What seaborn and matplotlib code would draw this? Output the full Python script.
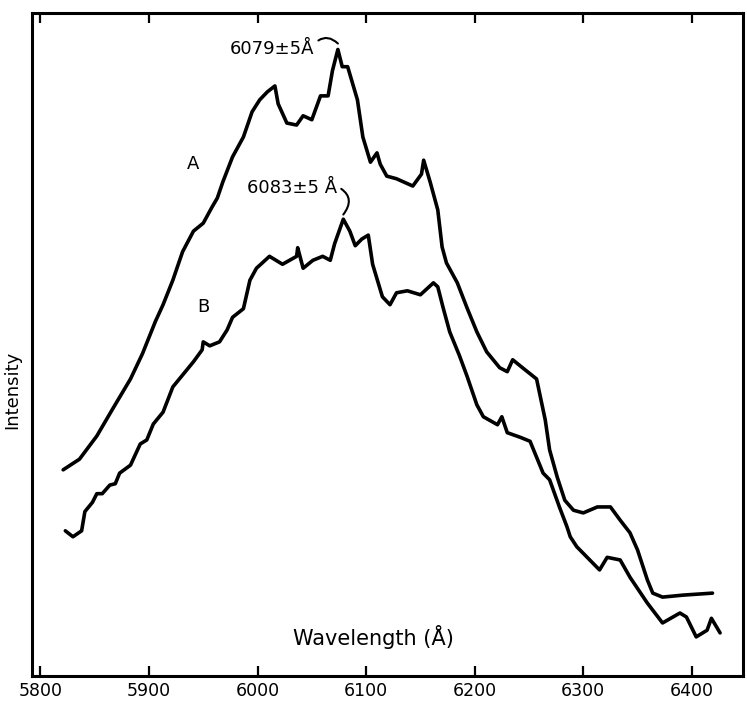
import numpy as np
import pandas as pd
import matplotlib
matplotlib.use("Agg")
import matplotlib.pyplot as plt
import seaborn as sns

# ---- data (wavelength in Angstrom, intensity in arbitrary units 0-100) ----
wl_a = [5821, 5836, 5852, 5867, 5883, 5894, 5906, 5913, 5922, 5931, 5941, 5950, 5958, 5963,
        5968, 5977, 5987, 5995, 6002, 6009, 6016, 6019, 6027, 6036, 6042, 6050, 6058, 6065,
        6069, 6074, 6078, 6083, 6092, 6097, 6104, 6110, 6113, 6119, 6128, 6143, 6151, 6153,
        6159, 6166, 6170, 6174, 6184, 6193, 6202, 6211, 6223, 6230, 6235, 6244, 6257, 6265,
        6269, 6276, 6283, 6291, 6300, 6313, 6325, 6334, 6343, 6350, 6359, 6364, 6373, 6392,
        6419]
int_a = [31.1, 32.7, 36.2, 40.4, 44.8, 48.6, 53.5, 56.0, 59.7, 64.0, 67.1, 68.3, 70.7, 72.1,
         74.5, 78.3, 81.3, 85.1, 86.9, 88.1, 89.0, 86.3, 83.4, 83.1, 84.5, 83.9, 87.5, 87.5,
         91.3, 94.5, 91.9, 91.9, 86.9, 81.3, 77.5, 78.9, 77.2, 75.4, 75.0, 73.9, 75.7, 77.8,
         74.5, 70.3, 64.7, 62.3, 59.3, 55.5, 51.9, 48.9, 46.5, 45.9, 47.7, 46.5, 44.8, 38.6,
         34.1, 30.0, 26.5, 25.0, 24.6, 25.5, 25.5, 23.5, 21.6, 19.0, 14.5, 12.5, 11.9, 12.2,
         12.5]

wl_b = [5823, 5830, 5838, 5841, 5848, 5852, 5857, 5864, 5869, 5873, 5883, 5892, 5898, 5904,
        5913, 5922, 5931, 5941, 5949, 5950, 5956, 5965, 5972, 5977, 5987, 5993, 5999, 6011,
        6023, 6036, 6037, 6042, 6051, 6060, 6067, 6071, 6079, 6085, 6090, 6096, 6102, 6106,
        6115, 6122, 6128, 6138, 6150, 6162, 6166, 6171, 6177, 6186, 6193, 6202, 6208, 6221,
        6225, 6230, 6242, 6251, 6257, 6263, 6269, 6278, 6285, 6288, 6294, 6315, 6322, 6334,
        6343, 6359, 6373, 6389, 6395, 6404, 6414, 6418, 6426]
int_b = [21.9, 21.0, 21.9, 24.8, 26.2, 27.5, 27.5, 28.8, 29.0, 30.6, 31.8, 35.0, 35.6, 38.0,
         39.8, 43.6, 45.4, 47.4, 49.2, 50.4, 49.8, 50.4, 52.2, 54.1, 55.4, 59.7, 61.5, 63.3,
         62.1, 63.3, 64.6, 61.5, 62.7, 63.3, 62.7, 65.2, 68.9, 67.1, 64.9, 65.9, 66.5, 62.1,
         57.2, 56.0, 57.8, 58.1, 57.5, 59.3, 58.7, 55.5, 51.9, 48.3, 45.2, 40.9, 39.1, 37.9,
         39.1, 36.7, 36.0, 35.4, 33.0, 30.6, 29.6, 25.5, 22.5, 21.0, 19.5, 16.0, 17.9, 17.5,
         14.9, 11.0, 8.0, 9.5, 8.9, 5.9, 6.9, 8.7, 6.5]

xticks = [5800, 5900, 6000, 6100, 6200, 6300, 6400]
xtick_labels = ["5800", "5900", "6000", "6100", "6200", "6300", "6400"]

df = pd.concat([
    pd.DataFrame({"wavelength": wl_a, "intensity": int_a, "trace": "A"}),
    pd.DataFrame({"wavelength": wl_b, "intensity": int_b, "trace": "B"}),
], ignore_index=True)

sns.set_style("white")
plt.rcParams["font.family"] = ["DejaVu Sans"]
plt.rcParams["text.color"] = "black"
plt.rcParams["axes.labelcolor"] = "black"
plt.rcParams["xtick.color"] = "black"

fig = plt.figure(figsize=(7.47, 7.03), dpi=100)
ax = fig.add_axes([32 / 747, (703 - 676) / 703, (743 - 32) / 747, (676 - 13) / 703])

sns.lineplot(data=df, x="wavelength", y="intensity", units="trace", estimator=None,
             sort=False, color="black", linewidth=2.6, ax=ax, legend=False)

ax.set_xlim(5792.3, 6447.1)
ax.set_ylim(0, 100)

ax.set_xticks(xticks)
ax.set_xticklabels(xtick_labels, fontsize=12.5, color="black", fontweight="medium")
ax.set_yticks([])
ax.tick_params(axis="x", direction="in", length=7, width=1.6, top=True, bottom=True,
               pad=4, colors="black")
for s in ax.spines.values():
    s.set_visible(True)
    s.set_linewidth(2.2)
    s.set_color("black")

ax.set_xlabel("Wavelength (Å)", fontsize=15, color="black", fontweight="medium")
ax.xaxis.label.set_va("center")
ax.xaxis.set_label_coords(0.48, 0.059)
ax.set_ylabel("Intensity", fontsize=13, color="black", fontweight="medium")
ax.yaxis.label.set_va("center")
ax.yaxis.set_label_coords(-0.028, 0.431)

# curve labels and peak annotations
ax.text(5941, 77.2, "A", fontsize=13, ha="center", va="center", color="black",
        fontweight="medium")
ax.text(5950, 55.7, "B", fontsize=13, ha="center", va="center", color="black",
        fontweight="medium")

ax.annotate("6079±5Å", xy=(6074, 95.4), xytext=(6052, 94.6), fontsize=13,
            ha="right", va="center", color="black", fontweight="medium",
            arrowprops=dict(arrowstyle="-", color="black", lw=1.5, relpos=(1.0, 0.75),
                            connectionstyle="arc3,rad=-0.5", shrinkA=1, shrinkB=0))
ax.annotate("6083±5 Å", xy=(6079, 69.6), xytext=(6073, 73.6), fontsize=13,
            ha="right", va="center", color="black", fontweight="medium",
            arrowprops=dict(arrowstyle="-", color="black", lw=1.5, relpos=(1.0, 0.6),
                            connectionstyle="arc3,rad=-0.6", shrinkA=1, shrinkB=0))

fig.savefig("out.png", dpi=100)
